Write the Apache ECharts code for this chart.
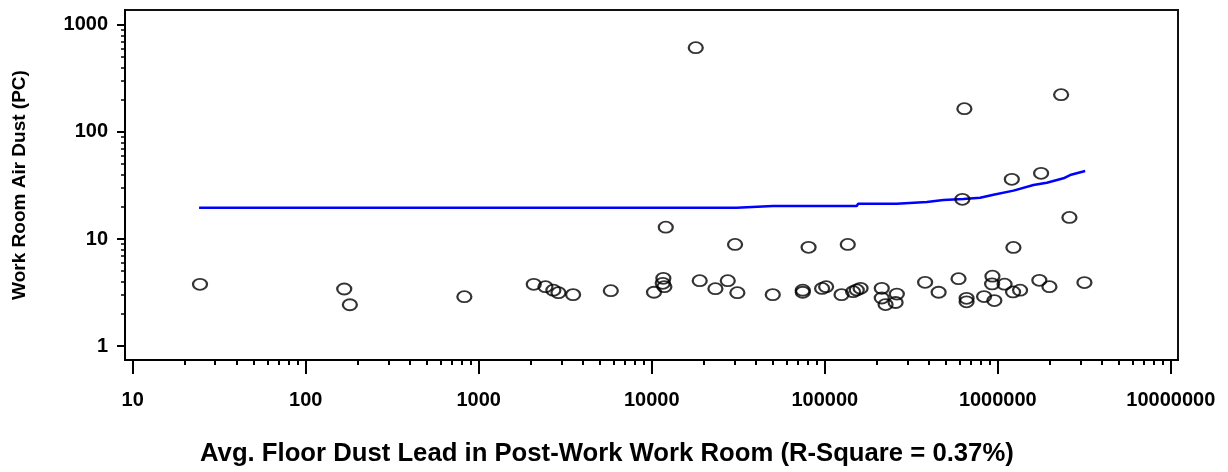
<!DOCTYPE html>
<html>
<head>
<meta charset="utf-8">
<script src="https://cdn.jsdelivr.net/npm/echarts@6/dist/echarts.min.js"></script>
<style>
  html, body { margin: 0; padding: 0; background: #fff; }
  #chart { width: 1228px; height: 472px; }
</style>
</head>
<body>
<div id="chart"></div>
<script>
const chart = echarts.init(document.getElementById("chart"));

// ==========================
// DATA
// ==========================

// avg. floor dust lead, post-work work room
const dustX = [24.5, 167, 180, 826, 2080, 2430, 2700, 2890, 3510, 5800,
  10300, 11670, 11580, 11830, 12050, 17960, 18930, 23330, 27500, 31250,
  30300, 50050, 74600, 74600, 80600, 96500, 101800, 125000, 135800, 145800,
  153000, 161000, 213500, 213500, 224500, 260800, 256600, 380000, 455000, 593000,
  660000, 660000, 833000, 931000, 927000, 955000, 1094000, 1231000, 1225000, 1345000,
  1738000, 1988000, 3167000, 641000, 2322000, 1205000, 1779000, 624000, 2594000];

// work room air dust (PC)
const airY = [3.77, 3.41, 2.43, 2.89, 3.77, 3.58, 3.32, 3.15, 3.02, 3.29,
  3.18, 4.29, 3.85, 3.58, 12.9, 613, 4.08, 3.43, 4.08, 3.15,
  8.89, 3.02, 3.18, 3.32, 8.36, 3.45, 3.58, 3.02, 8.89, 3.22,
  3.34, 3.46, 3.46, 2.81, 2.44, 3.06, 2.55, 3.94, 3.18, 4.26,
  2.79, 2.59, 2.90, 4.49, 3.80, 2.66, 3.78, 8.33, 3.20, 3.32,
  4.11, 3.58, 3.92, 165, 223, 36.1, 41.1, 23.5, 15.9];

// fitted line
const fitX = [24.2, 31000, 50200, 153000, 156000, 260600, 389000, 485000, 633000,
  790000, 944000, 1232000, 1607000, 1920000, 2395000, 2617000, 3198000];
const fitY = [19.6, 19.6, 20.35, 20.35, 21.4, 21.4, 22.2, 23.1, 23.6,
  24.3, 25.9, 28.3, 32.0, 33.6, 36.9, 39.6, 43.2];

// tick labels
const xTicks = [10, 100, 1000, 10000, 100000, 1000000, 10000000];
const yTicks = [1, 10, 100, 1000];

// axis extents (plot frame edges)
const X_MIN = 9.03, X_MAX = 11000000;
const Y_MIN = 0.74, Y_MAX = 1380;

// ==========================
// HELPERS
// ==========================

const lg = v => Math.log10(v);

// minor log ticks 2..9 inside each decade
function minorTicks(majors) {
  const out = [];
  majors.forEach(m => {
    for (let k = 2; k <= 9; k++) out.push(lg(m * k));
  });
  return out;
}

const FONT = "'Liberation Sans', Arial, sans-serif";

const labelFmt = v => String(Math.round(Math.pow(10, v)));

// ==========================
// OPTION
// ==========================

chart.setOption({
  backgroundColor: "#fff",
  animation: false,
  title: {
    text: "Avg. Floor Dust Lead in Post-Work Work Room (R-Square = 0.37%)",
    left: 200,
    top: 441,
    padding: 0,
    textStyle: { fontFamily: FONT, fontSize: 25.7, fontWeight: "bold", color: "#000" }
  },
  grid: {
    left: 125, right: 50, top: 10, bottom: 112,
    containLabel: false,
    outerBoundsMode: "none",
    show: true,
    borderColor: "#111",
    borderWidth: 2,
    backgroundColor: "#fff"
  },
  xAxis: [
    {
      type: "value",
      min: lg(X_MIN), max: lg(X_MAX),
      axisLine: { onZero: false, lineStyle: { color: "#000", width: 2 } },
      axisTick: { customValues: xTicks.map(lg), length: 14, lineStyle: { color: "#000", width: 2 } },
      axisLabel: {
        customValues: xTicks.map(lg),
        formatter: labelFmt,
        margin: 30,
        fontFamily: FONT, fontSize: 20, fontWeight: "bold", color: "#000"
      },
      splitLine: { show: false }
    },
    {
      type: "value",
      min: lg(X_MIN), max: lg(X_MAX),
      position: "bottom",
      axisLine: { show: false, onZero: false },
      axisTick: { customValues: minorTicks(xTicks.slice(0, -1)), length: 5, lineStyle: { color: "#000", width: 2 } },
      axisLabel: { show: false },
      splitLine: { show: false }
    }
  ],
  yAxis: [
    {
      type: "value",
      min: lg(Y_MIN), max: lg(Y_MAX),
      name: "Work Room Air Dust (PC)",
      nameLocation: "middle",
      nameGap: 96,
      nameTextStyle: { fontFamily: FONT, fontSize: 19, fontWeight: "bold", color: "#000" },
      axisLine: { onZero: false, lineStyle: { color: "#000", width: 2 } },
      axisTick: { customValues: yTicks.map(lg), length: 8, lineStyle: { color: "#000", width: 2 } },
      axisLabel: {
        customValues: yTicks.map(lg),
        formatter: labelFmt,
        margin: 17,
        fontFamily: FONT, fontSize: 20, fontWeight: "bold", color: "#000"
      },
      splitLine: { show: false }
    },
    {
      type: "value",
      min: lg(Y_MIN), max: lg(Y_MAX),
      position: "left",
      axisLine: { show: false, onZero: false },
      axisTick: { customValues: minorTicks(yTicks.slice(0, -1)), length: 4, lineStyle: { color: "#000", width: 1.5 } },
      axisLabel: { show: false },
      splitLine: { show: false }
    }
  ],
  series: [
    {
      type: "line",
      data: fitX.map((x, i) => [lg(x), lg(fitY[i])]),
      showSymbol: false,
      lineStyle: { color: "#0000ff", width: 2.5 },
      z: 2
    },
    {
      type: "scatter",
      data: dustX.map((x, i) => [lg(x), lg(airY[i])]),
      symbol: "circle",
      symbolSize: [14, 11],
      itemStyle: { color: "transparent", borderColor: "#000", borderWidth: 2 },
      z: 3
    }
  ]
});
</script>
</body>
</html>
